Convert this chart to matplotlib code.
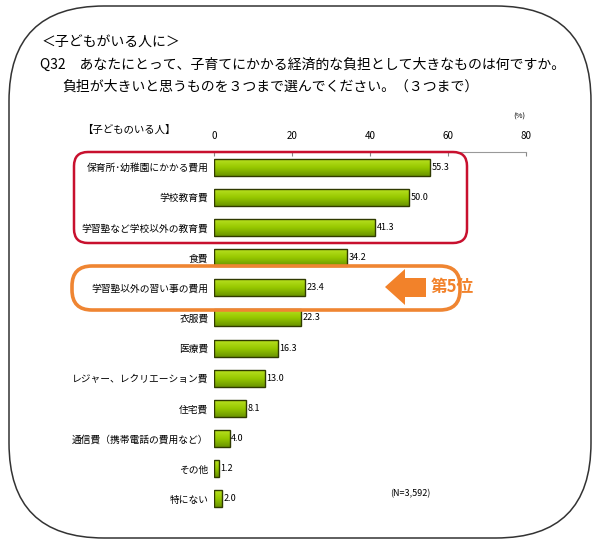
import numpy as np
import matplotlib
matplotlib.use('Agg')
import matplotlib.pyplot as plt
from matplotlib.patches import FancyBboxPatch, Polygon
from matplotlib.colors import LinearSegmentedColormap

plt.rcParams['font.family'] = ['Noto Sans CJK JP', 'DejaVu Sans']

# data
categories = ['保育所･幼稚園にかかる費用', '学校教育費', '学習塾など学校以外の教育費', '食費',
              '学習塾以外の習い事の費用', '衣服費', '医療費', 'レジャー、レクリエーション費',
              '住宅費', '通信費（携帯電話の費用など）', 'その他', '特にない']
values = [55.3, 50.0, 41.3, 34.2, 23.4, 22.3, 16.3, 13.0, 8.1, 4.0, 1.2, 2.0]
ticks = [0, 20, 40, 60, 80]

fig = plt.figure(figsize=(6, 5.44), dpi=100)

# main bar axes (pixel layout: x 214..526, y 152..514)
ax = fig.add_axes([214/600, 1-514/544, 312/600, 362/544])
y = np.arange(len(values))
bars = ax.barh(y, values, height=0.56, color='#8fc000', edgecolor='#2f3a00', linewidth=1.0, zorder=3)

# slight vertical gradient in every bar, edge drawn on top
cmap = LinearSegmentedColormap.from_list('g', ['#b8e020', '#96c800', '#6a9400'])
grad = np.linspace(0, 1, 64).reshape(-1, 1)
for b in bars:
    x0, y0 = b.get_x(), b.get_y()
    w, h = b.get_width(), b.get_height()
    im = ax.imshow(grad, cmap=cmap, aspect='auto', extent=(x0, x0 + w, y0 + h, y0),
                   zorder=3.5, interpolation='bilinear')
    im.set_clip_path(b)
    b.set_facecolor('none')
    b.set_zorder(4)

for yi, v in zip(y, values):
    ax.text(v + 0.4, yi, f'{v:.1f}', va='center', ha='left', fontsize=6.5, zorder=5)

ax.set_xlim(0, 80)
ax.set_ylim(len(values) - 0.5, -0.5)
ax.set_yticks(y)
ax.set_yticklabels(categories, fontsize=7)
ax.tick_params(axis='y', length=0, pad=4)
ax.xaxis.tick_top()
ax.set_xticks(ticks)
ax.tick_params(axis='x', direction='in', length=3, labelsize=7, pad=8, color='#888888')
for s in ['left', 'right', 'bottom']:
    ax.spines[s].set_visible(False)
ax.spines['top'].set_color('#999999')
ax.set_facecolor('none')

# overlay in pixel coordinates for decorations and titles
ov = fig.add_axes([0, 0, 1, 1], zorder=10)
ov.set_xlim(0, 600)
ov.set_ylim(544, 0)
ov.axis('off')
ov.patch.set_alpha(0)

# outer rounded frame
ov.add_patch(FancyBboxPatch((100, 97), 400, 350, boxstyle='round,pad=91,rounding_size=95',
                            fill=False, edgecolor='#333333', linewidth=1.1))

ov.text(42, 43, '＜子どもがいる人に＞', fontsize=10, va='center', ha='left')
ov.text(40, 65, 'Q32　あなたにとって、子育てにかかる経済的な負担として大きなものは何ですか。',
        fontsize=10, va='center', ha='left')
ov.text(62, 87, '負担が大きいと思うものを３つまで選んでください。（３つまで）',
        fontsize=10, va='center', ha='left')
ov.text(82, 130, '【子どものいる人】', fontsize=7.5, va='center', ha='left')
ov.text(519, 117, '(%)', fontsize=5.5, va='center', ha='center')
ov.text(390, 494, '(N=3,592)', fontsize=6.5, va='center', ha='left')

# red box around the top 3
ov.add_patch(FancyBboxPatch((85, 163), 371, 69, boxstyle='round,pad=11,rounding_size=14',
                            fill=False, edgecolor='#c8102e', linewidth=1.8))
# orange box around 5th place
ov.add_patch(FancyBboxPatch((82, 276), 368, 24, boxstyle='round,pad=10,rounding_size=20',
                            fill=False, edgecolor='#ef8532', linewidth=2.6))
# orange arrow
ov.add_patch(Polygon([(385, 287), (405, 269), (405, 278), (426, 278), (426, 297),
                      (405, 297), (405, 305)], closed=True, facecolor='#f2822a',
                     edgecolor='none'))
ov.text(431, 287, '第5位', fontsize=12, fontweight='bold', color='#f2822a',
        va='center', ha='left')

fig.savefig('out.png', dpi=100)
